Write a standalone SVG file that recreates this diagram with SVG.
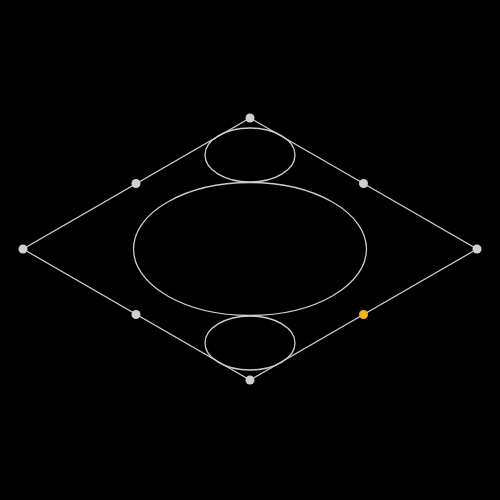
<svg xmlns="http://www.w3.org/2000/svg" width="500" height="500" viewBox="0 0 500 500">
<style>
.ln{fill:none;stroke:#cccccc;stroke-width:1.3}
.pt{fill:#d0d0d0}
.hl{fill:#f2b320}
</style>
<rect width="500" height="500" fill="#000"/>
<g id="connectors">
<polygon class="ln" points="250,118 477,249 250,380 23,249"/>
</g>
<g id="ellipse-top"><ellipse class="ln" cx="250" cy="155" rx="45" ry="27"/></g>
<g id="ellipse-center"><ellipse class="ln" cx="250" cy="249" rx="116.5" ry="66.5"/></g>
<g id="ellipse-bottom"><ellipse class="ln" cx="250" cy="343" rx="45" ry="27"/></g>
<g id="p-top"><circle class="pt" cx="250" cy="118" r="4.5"/></g>
<g id="p-right"><circle class="pt" cx="477" cy="249" r="4.5"/></g>
<g id="p-bottom"><circle class="pt" cx="250" cy="380" r="4.5"/></g>
<g id="p-left"><circle class="pt" cx="23" cy="249" r="4.5"/></g>
<g id="m-tl"><circle class="pt" cx="136" cy="183.5" r="4.5"/></g>
<g id="m-tr"><circle class="pt" cx="363.5" cy="183.5" r="4.5"/></g>
<g id="m-bl"><circle class="pt" cx="136" cy="314.5" r="4.5"/></g>
<g id="m-br"><circle class="hl" cx="363.5" cy="314.5" r="4.5"/></g>
</svg>
